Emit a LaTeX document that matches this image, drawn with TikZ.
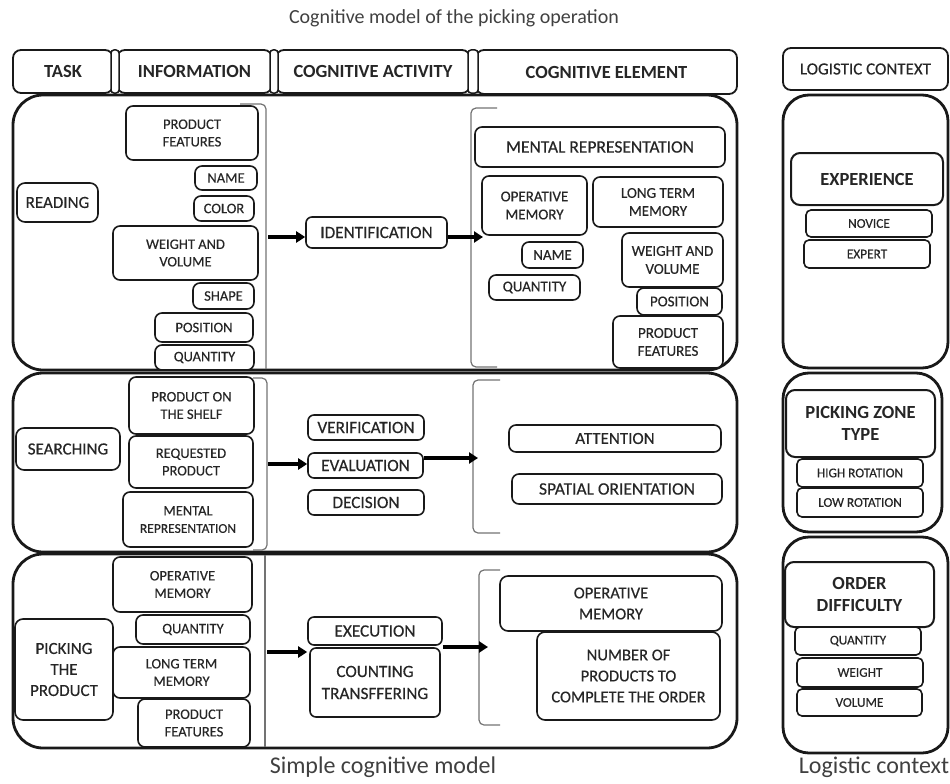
\documentclass[tikz,border=0pt]{standalone}
\usepackage{fontspec}
\setmainfont{Carlito}
\newfontfamily\medf{Carlito}[FakeBold=0.35]
\usetikzlibrary{arrows.meta}
\newcommand\mkbox[7]{\node[#1, minimum width={(#5-#3)*1pt}, minimum height={(#6-#4)*1pt}] (#2) at ({(#3+#5)/2},{(#4+#6)/2}) {#7};}
\newcommand\fs[2]{\fontsize{#1}{#2}\selectfont}
\begin{document}
\begin{tikzpicture}[x=1pt,y=-1pt,
  basebox/.style={draw=black!90, fill=white, inner sep=0pt, align=center, text=black!85},
  panel/.style={basebox, fill=none, line width=2.8pt, rounded corners=30pt},
  lpanel/.style={basebox, fill=none, line width=2.8pt, rounded corners=26pt},
  hdr/.style={basebox, line width=1.8pt, rounded corners=8pt, font=\bfseries\fs{18.5}{21}},
  hdrl/.style={basebox, line width=1.8pt, rounded corners=8pt, font=\medf\fs{17}{19}},
  pill/.style={basebox, line width=1.5pt, rounded corners=3pt},
  task/.style={basebox, line width=1.6pt, rounded corners=8pt, font=\medf\fs{17}{21}},
  info/.style={basebox, line width=1.6pt, rounded corners=7pt, font=\medf\fs{14.5}{17.5}},
  act/.style={basebox, line width=1.6pt, rounded corners=6pt, font=\medf\fs{17.2}{22}},
  cel/.style={basebox, line width=1.6pt, rounded corners=7pt, font=\medf\fs{15}{18}},
  celb/.style={basebox, line width=1.6pt, rounded corners=8pt, font=\medf\fs{16.5}{21}},
  ltit/.style={basebox, line width=2pt, rounded corners=9pt, font=\bfseries\fs{18.5}{22}},
  lsm/.style={basebox, line width=1.6pt, rounded corners=5pt, font=\medf\fs{13.3}{15}},
  brk/.style={draw=black!55, line width=1.2pt, rounded corners=5pt},
  arr/.style={draw=black, line width=3.6pt, -{Triangle[length=9pt,width=11pt]}},
  captxt/.style={text=black!75, inner sep=0pt}
]
\useasboundingbox (0,0) rectangle (950,784);

% titles
\node[captxt, font=\fs{20}{24}] (title) at (454,18) {Cognitive model of the picking operation};
\node[captxt, font=\fs{24}{28}] (capA) at (383,767) {Simple cognitive model};
\node[captxt, font=\fs{24}{28}] (capB) at (874,767) {Logistic context};

% header
\mkbox{hdr}{hTask}{13}{50}{113}{93}{TASK}
\mkbox{hdr}{hInfo}{117}{50}{272}{93}{INFORMATION}
\mkbox{hdr}{hAct}{276}{50}{470}{93}{COGNITIVE ACTIVITY}
\mkbox{hdr}{hEl}{476}{50}{737}{94}{COGNITIVE ELEMENT}
\mkbox{pill}{p1}{111}{50}{119}{93}{}
\mkbox{pill}{p2}{270}{50}{278}{93}{}
\mkbox{pill}{p3}{468}{50}{478}{93}{}
\mkbox{hdrl}{hLog}{783}{48}{948}{90}{LOGISTIC CONTEXT}

% panels
\mkbox{panel}{pRead}{13}{95}{737}{370}{}
\mkbox{panel}{pSearch}{13}{373}{737}{552}{}
\mkbox{panel}{pPick}{13}{554}{737}{748}{}
\mkbox{lpanel}{lExp}{783}{95}{948}{368}{}
\mkbox{lpanel}{lZone}{783}{373}{942}{532}{}
\mkbox{lpanel}{lOrder}{783}{537}{948}{753}{}

% brackets
\draw[brk] (240,104) -- (266,104) -- (266,369);
\draw[brk] (253,378) -- (267,378) -- (267,550) -- (253,550);
\draw[brk, rounded corners=0pt] (265,555) -- (265,747);
\draw[brk] (497,108) -- (471,108) -- (471,367) -- (497,367);
\draw[brk] (500,380) -- (473,380) -- (473,533) -- (500,533);
\draw[brk] (500,570) -- (479,570) -- (479,725) -- (500,725);

% ---------- READING ----------
\mkbox{task}{read}{17}{183}{98}{222}{READING}
\mkbox{info}{rPF}{126}{106}{258}{160}{PRODUCT\\FEATURES}
\mkbox{info}{rName}{195}{166}{257}{190}{NAME}
\mkbox{info}{rColor}{194}{196}{254}{221}{COLOR}
\mkbox{info}{rWV}{113}{226}{258}{280}{WEIGHT AND\\VOLUME}
\mkbox{info}{rShape}{193}{283}{254}{309}{SHAPE}
\mkbox{info}{rPos}{155}{313}{253}{342}{POSITION}
\mkbox{info}{rQty}{155}{345}{254}{370}{QUANTITY}
\mkbox{act}{idn}{306}{217}{447}{248}{IDENTIFICATION}
\mkbox{cel}{mr}{475}{127}{725}{167}{\fs{17.5}{20}MENTAL REPRESENTATION}
\mkbox{cel}{om1}{482}{176}{587}{235}{OPERATIVE\\MEMORY}
\mkbox{cel}{ltm1}{593}{177}{723}{227}{LONG TERM\\MEMORY}
\mkbox{cel}{cName}{522}{242}{583}{268}{NAME}
\mkbox{cel}{cQty}{489}{275}{580}{300}{QUANTITY}
\mkbox{cel}{cWV}{622}{233}{723}{287}{WEIGHT AND\\VOLUME}
\mkbox{cel}{cPos}{637}{288}{722}{315}{POSITION}
\mkbox{cel}{cPF}{613}{316}{723}{368}{PRODUCT\\FEATURES}
\mkbox{ltit}{exp}{791}{153}{943}{205}{EXPERIENCE}
\mkbox{lsm}{nov}{806}{210}{932}{237}{NOVICE}
\mkbox{lsm}{expt}{804}{240}{930}{268}{EXPERT}
\coordinate (b1) at (268,237);
\coordinate (e1) at (483,237);
\draw[arr] (b1) -- (b1 -| idn.west);
\draw[arr] (idn.east |- e1) -- (e1);

% ---------- SEARCHING ----------
\mkbox{task}{srch}{16}{428}{120}{470}{SEARCHING}
\mkbox{info}{sPS}{129}{377}{254}{434}{PRODUCT ON\\THE SHELF}
\mkbox{info}{sRP}{129}{436}{253}{488}{REQUESTED\\PRODUCT}
\mkbox{info}{sMR}{123}{492}{253}{547}{MENTAL\\{\fs{13.5}{17}REPRESENTATION}}
\mkbox{act}{ver}{308}{415}{424}{440}{VERIFICATION}
\mkbox{act}{eva}{308}{453}{423}{478}{EVALUATION}
\mkbox{act}{dec}{308}{490}{424}{515}{DECISION}
\mkbox{cel}{att}{509}{425}{721}{452}{\fs{17}{19}ATTENTION}
\mkbox{cel}{spo}{512}{474}{722}{504}{\fs{17.5}{19}SPATIAL ORIENTATION}
\mkbox{ltit}{pzt}{786}{390}{935}{457}{PICKING ZONE\\TYPE}
\mkbox{lsm}{hr}{797}{459}{923}{487}{HIGH ROTATION}
\mkbox{lsm}{lr}{797}{488}{923}{517}{LOW ROTATION}
\coordinate (b2) at (268,464);
\coordinate (e2) at (478,458);
\draw[arr] (b2) -- (b2 -| eva.west);
\draw[arr] (eva.east |- e2) -- (e2);

% ---------- PICKING ----------
\mkbox{task}{pick}{15}{619}{113}{720}{PICKING\\THE\\PRODUCT}
\mkbox{info}{pOM}{113}{557}{252}{612}{OPERATIVE\\MEMORY}
\mkbox{info}{pQty}{136}{615}{250}{644}{QUANTITY}
\mkbox{info}{pLTM}{113}{647}{250}{698}{LONG TERM\\MEMORY}
\mkbox{info}{pPF}{138}{699}{250}{747}{PRODUCT\\FEATURES}
\mkbox{act}{exe}{308}{617}{442}{645}{EXECUTION}
\mkbox{act}{cnt}{310}{648}{440}{717}{COUNTING\\TRANSFFERING}
\mkbox{celb}{pOM2}{500}{576}{722}{631}{OPERATIVE\\MEMORY}
\mkbox{celb}{nop}{537}{632}{720}{720}{NUMBER OF\\PRODUCTS TO\\COMPLETE THE ORDER}
\mkbox{ltit}{od}{785}{562}{934}{627}{ORDER\\DIFFICULTY}
\mkbox{lsm}{oq}{795}{627}{921}{655}{QUANTITY}
\mkbox{lsm}{ow}{797}{658}{923}{687}{WEIGHT}
\mkbox{lsm}{ov}{797}{689}{922}{716}{VOLUME}
\coordinate (b3) at (267,652);
\coordinate (e3) at (488,647);
\draw[arr] (b3) -- (b3 -| exe.west);
\draw[arr] (exe.east |- e3) -- (e3);
\end{tikzpicture}
\end{document}
